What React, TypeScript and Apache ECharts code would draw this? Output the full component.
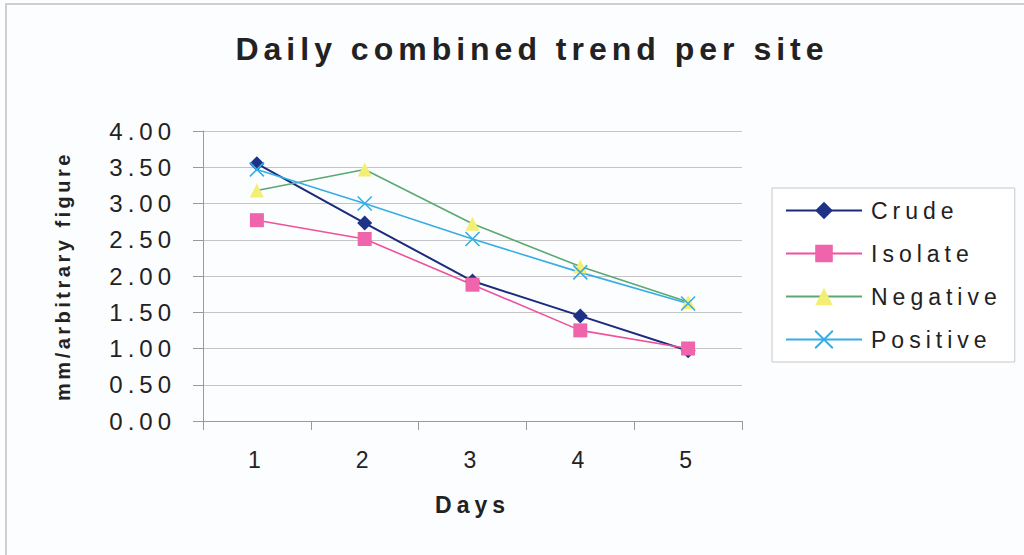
import React, { useEffect, useRef } from "react";
import * as echarts from "echarts";

// Days on the x axis
const days = ["1", "2", "3", "4", "5"];

// Daily measurements (mm/arbitrary figure) per site
const crude = [3.55, 2.73, 1.93, 1.45, 0.97];
const isolate = [2.77, 2.51, 1.88, 1.25, 1.0];
const negative = [3.18, 3.47, 2.72, 2.13, 1.64];
const positive = [3.47, 3.0, 2.51, 2.05, 1.62];

const yAxisTitle = "mm/arbitrary figure";

const FONT = "'Liberation Sans', Arial, sans-serif";
const TEXT = "#222222";

export default function App() {
  const ref = useRef<HTMLDivElement>(null);

  useEffect(() => {
    const el = ref.current;
    if (!el) return;
    const chart = echarts.init(el, null, { renderer: "svg" });

    const lineSeries = (
      name: string,
      data: number[],
      lineColor: string,
      markerColor: string,
      symbol: string,
      symbolSize: number,
      lineWidth: number,
      stroked = false
    ) => ({
      name,
      type: "line",
      data,
      symbol,
      symbolSize,
      showSymbol: true,
      lineStyle: { color: lineColor, width: lineWidth },
      itemStyle: stroked
        ? { color: markerColor, borderColor: markerColor, borderWidth: 1.6 }
        : { color: markerColor, borderWidth: 0 },
      z: 3,
    });

    chart.setOption({
      animation: false,
      backgroundColor: "#fcfdfe",
      textStyle: { fontFamily: FONT, color: TEXT },
      title: {
        text: "Daily combined trend per site",
        left: 527,
        top: 28,
        textAlign: "center",
        textStyle: { fontFamily: FONT, fontSize: 32, fontWeight: "bold", color: TEXT },
      },
      graphic: [
        {
          type: "rect",
          shape: { x: 6, y: 4, width: 1040, height: 570 },
          style: { fill: "none", stroke: "#cfcfcf", lineWidth: 2 },
          silent: true,
        },
      ],
      grid: { left: 203, right: 282, top: 131, bottom: 134, containLabel: false },
      legend: {
        orient: "vertical",
        left: 772,
        top: 188,
        itemWidth: 76,
        itemHeight: 22,
        itemGap: 20,
        padding: [11, 53, 11, 13],
        borderColor: "#c8c8c8",
        borderWidth: 1,
        backgroundColor: "#ffffff",
        textStyle: { fontFamily: FONT, fontSize: 23, color: TEXT, padding: [0, 0, 0, 4] },
        data: ["Crude", "Isolate", "Negative", "Positive"],
      },
      xAxis: {
        type: "category",
        data: days,
        boundaryGap: true,
        axisLine: { lineStyle: { color: "#9a9a9a", width: 1 } },
        axisTick: { show: true, length: 9, inside: false, lineStyle: { color: "#9a9a9a" } },
        axisLabel: { fontFamily: FONT, fontSize: 23, color: TEXT, margin: 27 },
        splitLine: { show: false },
        name: "Days",
        nameLocation: "middle",
        nameGap: 72,
        nameTextStyle: { fontFamily: FONT, fontSize: 23, fontWeight: "bold", color: TEXT },
      },
      yAxis: {
        type: "value",
        min: 0,
        max: 4,
        interval: 0.5,
        axisLine: { show: true, lineStyle: { color: "#9a9a9a", width: 1 } },
        axisTick: { show: true, length: 10, inside: false, lineStyle: { color: "#9a9a9a" } },
        axisLabel: {
          fontFamily: FONT,
          fontSize: 24,
          color: TEXT,
          margin: 27,
          formatter: (v: number) => v.toFixed(2),
        },
        splitLine: { show: true, lineStyle: { color: "#c4c4c4", width: 1 } },
        name: yAxisTitle,
        nameLocation: "middle",
        nameRotate: 90,
        nameGap: 130,
        nameTextStyle: { fontFamily: FONT, fontSize: 20, fontWeight: "bold", color: TEXT },
      },
      series: [
        lineSeries("Crude", crude, "#1b2a7c", "#1e3388", "diamond", 15, 2),
        lineSeries("Isolate", isolate, "#f0509c", "#f064ac", "rect", 14, 1.6),
        lineSeries("Negative", negative, "#5aa972", "#f4ef72", "triangle", 14, 1.6),
        lineSeries(
          "Positive",
          positive,
          "#35aee6",
          "#35aee6",
          "path://M0,0L10,10M10,0L0,10",
          14,
          1.6,
          true
        ),
      ],
    });

    // The rotated axis title is set tighter than the rest of the text.
    const tightenAxisTitle = () => {
      el.querySelectorAll("text").forEach((t) => {
        if (t.textContent === yAxisTitle) {
          (t as SVGTextElement).style.letterSpacing = "3.5px";
        }
      });
    };
    tightenAxisTitle();
    chart.on("finished", tightenAxisTitle);
    const raf = requestAnimationFrame(tightenAxisTitle);

    return () => {
      cancelAnimationFrame(raf);
      chart.dispose();
    };
  }, []);

  return (
    <div
      ref={ref}
      style={{
        position: "fixed",
        left: 0,
        top: 0,
        width: 1024,
        height: 555,
        letterSpacing: "5px",
      }}
    />
  );
}
